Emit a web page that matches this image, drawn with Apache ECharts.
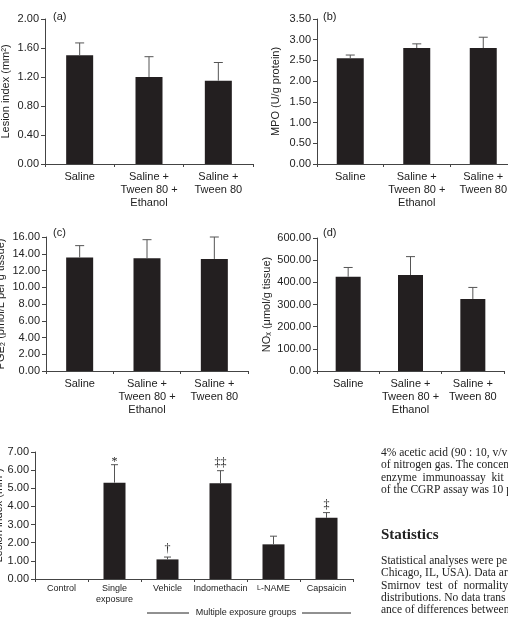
<!DOCTYPE html>
<html>
<head>
<meta charset="utf-8">
<script src="https://cdn.jsdelivr.net/npm/echarts@6/dist/echarts.min.js"></script>
<style>
  html, body { margin: 0; padding: 0; background: #fff; }
  #chart { width: 508px; height: 624px; }
</style>
</head>
<body>
<div id="chart"></div>
<script>
// panels (a)-(d): same three groups
const groups = ["Saline", "Saline +\nTween 80 +\nEthanol", "Saline +\nTween 80"];

const lesionA = [1.50, 1.20, 1.15];
const lesionAErr = [0.17, 0.28, 0.25];

const mpoB = [2.55, 2.80, 2.80];
const mpoBErr = [0.08, 0.10, 0.26];

const pge2C = [13.55, 13.45, 13.38];
const pge2CErr = [1.42, 2.23, 2.62];

const noxD = [425, 433, 325];
const noxDErr = [42, 83, 52];

// bottom panel
const groupsE = ["Control", "Single\nexposure", "Vehicle", "Indomethacin", "L-NAME", "Capsaicin"];
const lesionE = [0, 5.31, 1.08, 5.28, 1.91, 3.37];
const lesionEErr = [0, 0.99, 0.13, 0.69, 0.45, 0.29];
const marksE = ["", "*", "\u2020", "\u2021\u2021", "", "\u2021"];

const FONT = "Liberation Sans";
const SERIF = "Liberation Serif";
const BAR = "#231f20";
const AXIS = "#444";

const panels = [
  { left: 45, top: 19, width: 208, height: 145, cats: groups, vals: lesionA, errs: lesionAErr,
    max: 2, interval: 0.4, name: "Lesion index (mm\u00b2)", gap: 34, barW: 27, cap: 9 },
  { left: 317, top: 19, width: 199.5, height: 145, cats: groups, vals: mpoB, errs: mpoBErr,
    max: 3.5, interval: 0.5, name: "MPO (U/g protein)", gap: 36, barW: 27, cap: 9 },
  { left: 46, top: 237, width: 202, height: 134, cats: groups, vals: pge2C, errs: pge2CErr,
    max: 16, interval: 2, name: "PGE\u2082 (pmol/L per g tissue)", gap: 40, barW: 27, cap: 9 },
  { left: 317, top: 238, width: 187, height: 133, cats: groups, vals: noxD, errs: noxDErr,
    max: 600, interval: 100, name: "NO\u2093 (\u03bcmol/g tissue)", gap: 45, barW: 25, cap: 9 },
  { left: 35, top: 452, width: 318, height: 127, cats: groupsE, vals: lesionE, errs: lesionEErr,
    max: 7, interval: 1, name: "Lesion index (mm\u00b2)", gap: 31, barW: 22, cap: 7, marks: marksE, small: true }
];

const grid = [], xAxis = [], yAxis = [], series = [];

panels.forEach(function (p, i) {
  grid.push({ left: p.left, top: p.top, width: p.width, height: p.height,
    containLabel: false, outerBoundsMode: "none" });
  xAxis.push({
    type: "category",
    gridIndex: i,
    data: p.cats,
    axisLine: { show: true, lineStyle: { color: AXIS, width: 1 } },
    axisTick: { show: true, length: 3, lineStyle: { color: AXIS } },
    axisLabel: {
      interval: 0,
      color: "#222",
      fontFamily: FONT,
      fontSize: p.small ? 9 : 11,
      lineHeight: p.small ? 11 : 13,
      margin: p.small ? 4 : 6,
      formatter: function (v) { return v === "L-NAME" ? "{sc|L}-NAME" : v; },
      rich: { sc: { fontSize: 7, fontFamily: FONT, color: "#222" } }
    }
  });
  yAxis.push({
    type: "value",
    gridIndex: i,
    min: 0,
    max: p.max,
    interval: p.interval,
    name: p.name,
    nameLocation: "middle",
    nameGap: p.gap,
    nameRotate: 90,
    nameMoveOverlap: false,
    nameTextStyle: { fontFamily: FONT, fontSize: 11, color: "#222" },
    splitLine: { show: false },
    axisLine: { show: true, lineStyle: { color: AXIS, width: 1 } },
    axisTick: { show: true, length: 4, lineStyle: { color: AXIS } },
    axisLabel: {
      color: "#222",
      fontFamily: FONT,
      fontSize: 11,
      margin: 6,
      formatter: function (v) { return v.toFixed(2); }
    }
  });
  series.push({
    type: "bar",
    xAxisIndex: i,
    yAxisIndex: i,
    data: p.vals,
    barWidth: p.barW,
    itemStyle: { color: BAR },
    silent: true
  });
  // upper whisker only, plus significance marks
  series.push({
    type: "custom",
    xAxisIndex: i,
    yAxisIndex: i,
    silent: true,
    z: 3,
    encode: { x: 0, y: 1 },
    data: p.vals.map(function (v, k) { return [k, v, v + p.errs[k]]; }),
    renderItem: function (params, api) {
      const k = api.value(0);
      const lo = api.coord([k, api.value(1)]);
      const hi = api.coord([k, api.value(2)]);
      const mark = p.marks ? p.marks[k] : "";
      const kids = [];
      if (hi[1] < lo[1] - 0.5) {
        kids.push({ type: "line", shape: { x1: lo[0], y1: lo[1], x2: hi[0], y2: hi[1] },
          style: { stroke: "#555", lineWidth: 1 } });
        kids.push({ type: "line", shape: { x1: hi[0] - p.cap / 2, y1: hi[1], x2: hi[0] + p.cap / 2, y2: hi[1] },
          style: { stroke: "#555", lineWidth: 1 } });
      }
      if (mark) {
        // the asterisk glyph sits high in its box, so pull it down onto the cap
        const dy = mark === "*" ? 3 : -2;
        kids.push({ type: "text", style: { text: mark, x: hi[0], y: hi[1] + dy, align: "center",
          verticalAlign: "bottom", font: "12px " + SERIF, fill: "#222" } });
      }
      return { type: "group", children: kids };
    }
  });
});

const paraLines1 = [
  "4% acetic acid (90 : 10, v/v",
  "of nitrogen gas. The concen",
  "enzyme  immunoassay  kit  (",
  "of the CGRP assay was 10 p"
];
const paraLines2 = [
  "Statistical analyses were pe",
  "Chicago, IL, USA). Data ar",
  "Smirnov  test  of  normality",
  "distributions. No data trans",
  "ance of differences between"
];

const graphic = [
  { type: "text", left: 53, top: 11, style: { text: "(a)", font: "11px " + FONT, fill: "#222" } },
  { type: "text", left: 323, top: 11, style: { text: "(b)", font: "11px " + FONT, fill: "#222" } },
  { type: "text", left: 53, top: 227, style: { text: "(c)", font: "11px " + FONT, fill: "#222" } },
  { type: "text", left: 323, top: 227, style: { text: "(d)", font: "11px " + FONT, fill: "#222" } },
  { type: "line", shape: { x1: 147, y1: 613, x2: 189, y2: 613 }, style: { stroke: "#222", lineWidth: 1 } },
  { type: "line", shape: { x1: 302, y1: 613, x2: 351, y2: 613 }, style: { stroke: "#222", lineWidth: 1 } },
  { type: "text", x: 246, y: 613, style: { text: "Multiple exposure groups", font: "9px " + FONT,
    fill: "#222", align: "center", verticalAlign: "middle" } },
  { type: "text", x: 381, y: 535, style: { text: "Statistics", font: "bold 15px " + SERIF,
    fill: "#222", verticalAlign: "middle" } }
];
paraLines1.forEach(function (t, k) {
  graphic.push({ type: "text", x: 381, y: 453 + k * 12.3, style: { text: t, font: "11.5px " + SERIF,
    fill: "#222", verticalAlign: "middle" } });
});
paraLines2.forEach(function (t, k) {
  graphic.push({ type: "text", x: 381, y: 561 + k * 12.3, style: { text: t, font: "11.5px " + SERIF,
    fill: "#222", verticalAlign: "middle" } });
});

const chart = echarts.init(document.getElementById("chart"), null, { renderer: "canvas" });
chart.setOption({
  animation: false,
  backgroundColor: "#fff",
  grid: grid,
  xAxis: xAxis,
  yAxis: yAxis,
  series: series,
  graphic: graphic
});
</script>
</body>
</html>
